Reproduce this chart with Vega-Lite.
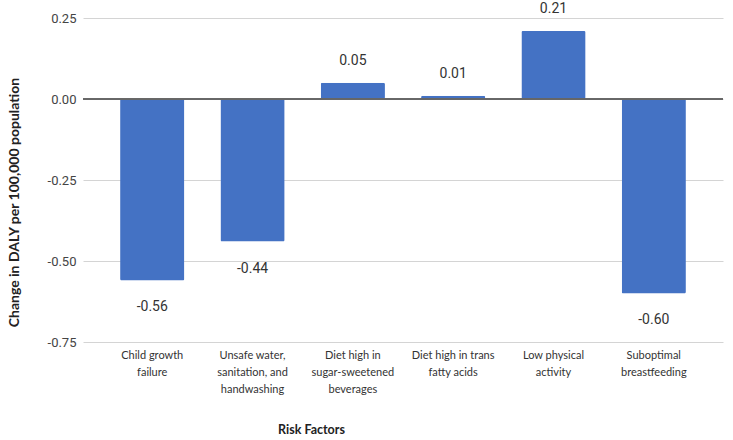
{
  "$schema": "https://vega.github.io/schema/vega-lite/v6.json",
  "autosize": {"type": "none"},
  "width": 640,
  "height": 324,
  "padding": {"left": 83, "top": 18, "right": 10, "bottom": 98},
  "background": "white",
  "config": {"view": {"stroke": null}},
  "data": {"values": [
    {"factor": "Child growth failure", "change": -0.56},
    {"factor": "Unsafe water, sanitation, and handwashing", "change": -0.44},
    {"factor": "Diet high in sugar-sweetened beverages", "change": 0.05},
    {"factor": "Diet high in trans fatty acids", "change": 0.01},
    {"factor": "Low physical activity", "change": 0.21},
    {"factor": "Suboptimal breastfeeding", "change": -0.60}
  ]},
  "transform": [{"calculate": "replace(format(datum.change, '.2f'), '\u2212', '-')", "as": "label"}],
  "encoding": {
    "x": {
      "field": "factor", "type": "nominal", "sort": null,
      "scale": {"paddingInner": 0.36, "paddingOuter": 0.37},
      "axis": {
        "title": "Risk Factors", "labelAngle": 0, "domain": false, "ticks": false,
        "labelPadding": 7, "labelFont": "Lato", "labelFontSize": 11, "labelColor": "#333",
        "labelLineHeight": 17, "labelBaseline": "top",
        "labelExpr": "datum.value == 'Child growth failure' ? ['Child growth','failure'] : datum.value == 'Unsafe water, sanitation, and handwashing' ? ['Unsafe water,','sanitation, and','handwashing'] : datum.value == 'Diet high in sugar-sweetened beverages' ? ['Diet high in','sugar-sweetened','beverages'] : datum.value == 'Diet high in trans fatty acids' ? ['Diet high in trans','fatty acids'] : datum.value == 'Low physical activity' ? ['Low physical','activity'] : ['Suboptimal','breastfeeding']",
        "titleFont": "Lato", "titleFontSize": 12.5, "titleFontWeight": "bold", "titleColor": "#222",
        "titleX": 228, "titleY": 81
      }
    }
  },
  "layer": [
    {
      "mark": {"type": "bar", "color": "#4472C4", "cornerRadius": 1.5},
      "encoding": {
        "y": {
          "field": "change", "type": "quantitative",
          "scale": {"domain": [-0.75, 0.25], "nice": false},
          "axis": {
            "title": "Change in DALY per 100,000 population",
            "values": [0.25, 0, -0.25, -0.5, -0.75], "format": ".2f",
            "labelExpr": "replace(datum.label, '\u2212', '-')",
            "domain": false, "ticks": false, "labelPadding": 7,
            "labelFont": "Roboto", "labelFontSize": 13, "labelColor": "#444",
            "gridColor": "#d4d4d4", "gridWidth": 1,
            "titleFont": "Lato", "titleFontSize": 14, "titleFontWeight": "bold", "titleColor": "#222",
            "titleX": -62, "titleY": 184
          }
        }
      }
    },
    {
      "mark": {"type": "rule", "color": "#666", "strokeWidth": 1.2},
      "encoding": {"y": {"datum": 0, "type": "quantitative"}, "x": {"value": 0}, "x2": {"value": 640}}
    },
    {
      "transform": [{"filter": "datum.change >= 0"}],
      "mark": {"type": "text", "dy": -22, "font": "Roboto", "fontSize": 14, "color": "#333"},
      "encoding": {
        "y": {"field": "change", "type": "quantitative"},
        "text": {"field": "label", "type": "nominal"}
      }
    },
    {
      "transform": [{"filter": "datum.change < 0"}],
      "mark": {"type": "text", "dy": 27, "font": "Roboto", "fontSize": 14, "color": "#333"},
      "encoding": {
        "y": {"field": "change", "type": "quantitative"},
        "text": {"field": "label", "type": "nominal"}
      }
    }
  ]
}
